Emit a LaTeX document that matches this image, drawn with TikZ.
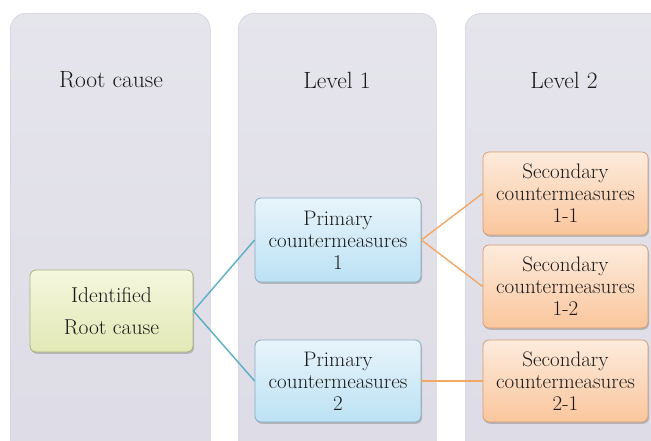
\documentclass[tikz,border=0pt]{standalone}
\usepackage{fontspec}
\usetikzlibrary{shadows}
\definecolor{panelc}{HTML}{DDDCE6}
\definecolor{panelb}{HTML}{D2D1DC}
\definecolor{txt}{HTML}{1A1A1A}
\definecolor{blueline}{HTML}{5AAEC6}
\definecolor{orangeline}{HTML}{F2A865}
\definecolor{greentop}{HTML}{F5F7DE}
\definecolor{greenbot}{HTML}{E2E9B6}
\definecolor{greenbd}{HTML}{A9AF80}
\definecolor{bluetop}{HTML}{E8F4FB}
\definecolor{bluebot}{HTML}{BCE2F4}
\definecolor{bluebd}{HTML}{86ACC2}
\definecolor{orangetop}{HTML}{FDEBDD}
\definecolor{orangebot}{HTML}{FAC69C}
\definecolor{orangebd}{HTML}{D49C76}
\begin{document}
\begin{tikzpicture}[x=1pt,y=-1pt,
  panel/.style={draw=panelb, line width=0.6pt, top color=panelc!75!white, bottom color=panelc, rounded corners=16pt, anchor=north west, inner sep=0pt},
  title/.style={text=txt, font=\fontsize{23.5}{26}\selectfont},
  box/.style={rounded corners=6pt, line width=0.8pt, align=center, text=txt, inner sep=0pt,
    font=\fontsize{21}{22}\selectfont,
    drop shadow={shadow xshift=1pt, shadow yshift=-1.8pt, opacity=0.35, fill=black!60}},
  greenbox/.style={box, top color=greentop, bottom color=greenbot, draw=greenbd, font=\fontsize{21.5}{32}\selectfont},
  bluebox/.style={box, top color=bluetop, bottom color=bluebot, draw=bluebd},
  orangebox/.style={box, top color=orangetop, bottom color=orangebot, draw=orangebd},
  bconn/.style={draw=blueline, line width=1.4pt},
  oconn/.style={draw=orangeline, line width=1.4pt}
]
\useasboundingbox (0,0) rectangle (651,441);
\clip (0,0) rectangle (651,441);
\fill[white] (0,0) rectangle (651,441);
% panels
\node[panel, minimum width=200pt, minimum height=460pt] (pa) at (10,13) {};
\node[panel, minimum width=198pt, minimum height=460pt] (pb) at (238,13) {};
\node[panel, minimum width=200pt, minimum height=460pt] (pc) at (465,13) {};
% titles
\node[title] (t1) at (111,80) {Root cause};
\node[title] (t2) at (337,80) {Level 1};
\node[title] (t3) at (564,80) {Level 2};
% boxes
\node[greenbox, minimum width=163pt, minimum height=82pt] (root) at (111.5,311) {Identified\\Root cause};
\node[bluebox, minimum width=166pt, minimum height=84pt] (p1) at (338,240) {Primary\\countermeasures\\1};
\node[bluebox, minimum width=166pt, minimum height=82pt] (p2) at (338,381) {Primary\\countermeasures\\2};
\node[orangebox, minimum width=165pt, minimum height=83pt] (s11) at (565.5,193.5) {Secondary\\countermeasures\\1-1};
\node[orangebox, minimum width=165pt, minimum height=83pt] (s12) at (565.5,286.5) {Secondary\\countermeasures\\1-2};
\node[orangebox, minimum width=165pt, minimum height=82pt] (s21) at (565.5,381) {Secondary\\countermeasures\\2-1};
% connectors
\draw[bconn] (root.east) -- (p1.west);
\draw[bconn] (root.east) -- (p2.west);
\draw[oconn] (p1.east) -- (s11.west);
\draw[oconn] (p1.east) -- (s12.west);
\draw[oconn] (p2.east) -- (s21.west);
\end{tikzpicture}
\end{document}
